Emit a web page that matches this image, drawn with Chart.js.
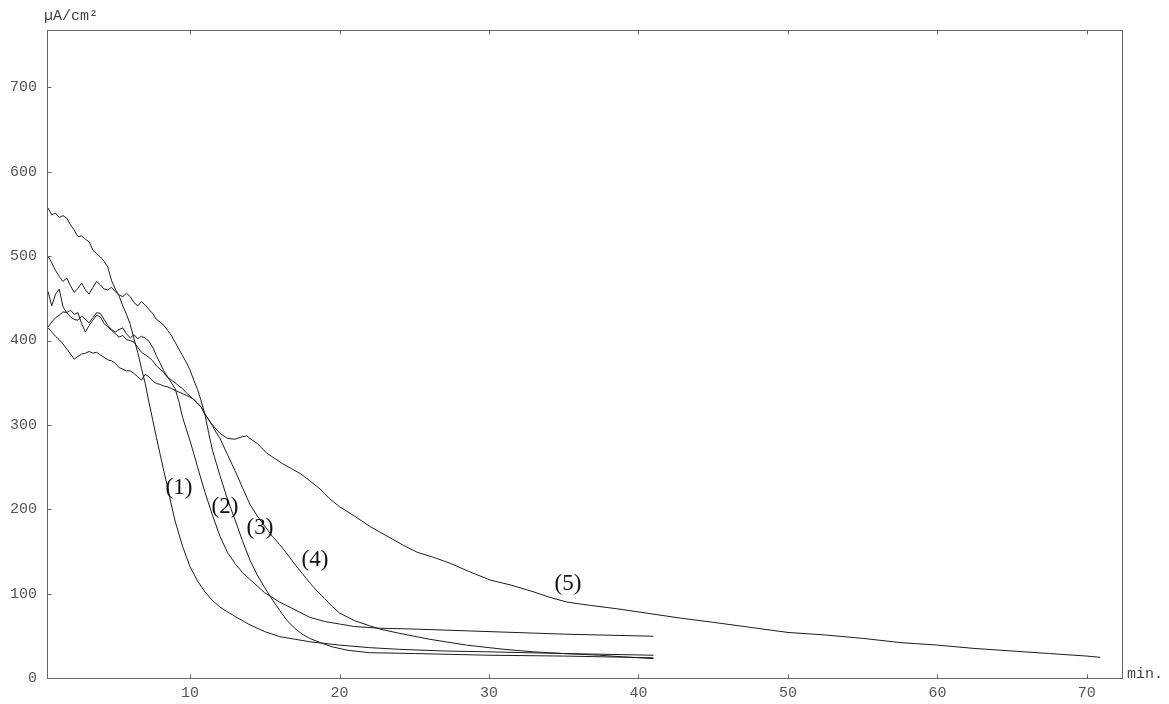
<!DOCTYPE html>
<html>
<head>
<meta charset="utf-8">
<script src="https://cdn.jsdelivr.net/npm/chart.js@4/dist/chart.umd.min.js"></script>
<style>
  html, body { margin: 0; padding: 0; background: #fff; }
</style>
</head>
<body>
<canvas id="myChart" width="1169" height="704"></canvas>
<script>
// axis ticks and names
var xTicks = [10, 20, 30, 40, 50, 60, 70]
var yTicks = [0, 100, 200, 300, 400, 500, 600, 700]
var xName = "min."
var yName = "µA/cm²"

// curve labels and where they sit (data units)
var curveNames = ["(1)", "(2)", "(3)", "(4)", "(5)"]
var labelX = [9.26, 12.34, 14.68, 18.36, 35.28]
var labelY = [225, 202.5, 177.6, 139.7, 112]

// curve (1)
var t1 = [0.5,0.75,1,1.25,1.5,1.75,2,2.25,2.5,2.75,3,3.25,3.5,3.75,4,4.25,4.5,4.75,5,5.25,5.5,5.75,6,6.25,6.5,6.75,7,7.25,7.5,7.75,8,8.25,8.5,8.75,9,
          9.5,10,10.5,11,11.5,12,13,14,15,16,17,18,19,20,22,24,27,30,35,41]
var i1 = [557,549,551,546,548,545,537,531,523,524,520,517,507,503,499,494,487,471,461,453,441,431,419,402,386,367,349,327,306,285,265,245,226,205,186,
          156,132,115,102,92,84,73,63,55,49,46,43,41,39,36,34,32,31,29,27]

// curve (2)
var t2 = [0.5,0.75,1,1.25,1.5,1.75,2,2.25,2.5,2.75,3,3.25,3.5,3.75,4,4.25,4.5,4.75,5,5.25,5.5,5.75,6,6.25,6.5,6.75,7,7.25,7.5,7.75,
          8,8.25,8.5,8.75,9,9.25,9.5,9.75,10,10.25,10.5,10.75,11,
          11.5,12,12.5,13,13.5,14,14.5,15,16,17,18,19,20,21,22.7,25,30,35,41]
var i2 = [458,441,455,461,440,433,428,425,424,429,425,421,427,433,432,425,418,413,410,413,415,408,403,407,402,405,403,399,392,382,
          373,364,357,350,343,328,309,295,281,266,250,235,220,
          193,168,149,136,125,117,109,101,90,81,72,67,64,61,59,58,55,52,49.5]

// curve (3)
var t3 = [0.5,0.75,1,1.25,1.5,1.75,2,2.25,2.5,2.75,3,3.25,3.5,3.75,4,4.25,4.5,4.75,5,5.25,5.5,5.75,6,6.25,6.5,6.75,7,7.25,7.5,7.75,
          8,8.25,8.5,8.75,9,9.25,9.5,9.75,10,10.25,10.5,10.75,11,11.25,11.5,11.75,
          12,12.5,13,13.5,14,14.5,15,15.5,16,16.5,17,17.5,18,18.7,19.5,20.5,22,25,30,35,41]
var i3 = [500,492,483,476,470,474,465,457,462,468,460,455,463,470,466,461,460,463,458,454,452,456,452,445,441,446,442,437,432,425,
          422,418,412,406,398,390,382,374,365,353,342,328,312,290,270,255,
          240,212,188,163,140,122,107,93,80,68,59,52,47,42,37,33,30,29,27,26,24]

// curve (4)
var t4 = [0.5,0.75,1,1.25,1.5,1.75,2,2.25,2.5,2.75,3,3.25,3.5,3.75,4,4.25,4.5,4.75,5,5.25,5.5,5.75,6,6.25,6.5,6.75,7,7.25,7.5,7.75,
          8,8.25,8.5,8.75,9,9.25,9.5,9.75,10,10.25,10.5,10.75,11,11.25,11.5,11.75,12,
          12.5,13,13.5,14,14.5,15,15.5,16,16.5,17,17.5,18,18.5,19,19.5,20,21,22,22.7,24,26,28.5,31,33,35,37.4,39,41]
var i4 = [416,422,427,430,434,433,436,431,433,420,410,418,424,430,428,420,416,412,408,404,406,401,400,398,392,386,383,380,376,370,
          366,362,356,353,350,346,343,338,334,330,325,321,313,306,299,291,284,
          265,246,226,206,192,180,168,158,147,135,124,113,103,94,85,77,68,62,58,53,46,39,34,31,29,27,25,23]

// curve (5)
var t5 = [0.5,0.75,1,1.25,1.5,1.75,2,2.25,2.5,2.75,3,3.25,3.5,3.75,4,4.25,4.5,4.75,5,5.25,5.5,5.75,6,6.25,6.5,6.75,7,7.25,7.5,7.75,
          8,8.25,8.5,8.75,9,9.25,9.5,9.75,10,10.25,10.5,10.75,11,
          11.5,12,12.5,13,13.5,13.8,14,14.5,15.1,15.6,16.2,16.8,17.4,18,18.7,19.3,20,21,22,23.4,24.3,25.2,26.3,27.4,28.7,30.1,
          31.5,33,34,35.2,36.8,38.6,40.5,42.8,45,47.5,50,52.5,55,57.5,60,62.5,65,67.5,70,70.9]
var i5 = [415,410,405,401,396,390,384,378,381,384,385,387,385,386,383,380,377,376,373,368,366,364,364,361,357,353,360,357,352,349,
          348,346,345,343,341,339,337,335,333,330,326,321,312,
          300,290,284,283,286,287,284,278,267,261,254,248,242,234,224,213,203,192,180,166,157,149,143,136,126,116,
          110,102,96,90,86,82,77,71,66,60,54,51,47,42,39,35,32,29,26,24.5]

var times = [t1, t2, t3, t4, t5]
var currents = [i1, i2, i3, i4, i5]

var datasets = []
for (var k = 0; k < times.length; k++) {
    var pts = []
    for (var j = 0; j < times[k].length; j++) {
        pts.push({x: times[k][j], y: currents[k][j]})
    }
    datasets.push({
        label: curveNames[k],
        data: pts,
        borderColor: "#1c1c1c",
        borderWidth: 1,
        pointRadius: 0,
        tension: 0,
        fill: false
    })
}

var tickFont = {family: "'Liberation Mono', 'DejaVu Sans Mono', monospace", size: 15}

// frame box, inward tick marks, axis names and curve numbers
var framePlugin = {
    id: "frame",
    afterDraw: function(chart){
        var c = chart.ctx, a = chart.chartArea
        var xs = chart.scales.x, ys = chart.scales.y
        var L = Math.round(a.left) + 0.5, R = Math.round(a.right) + 0.5
        var T = Math.round(a.top) + 0.5, B = Math.round(a.bottom) + 0.5
        c.save()
        c.strokeStyle = "#666"
        c.lineWidth = 1
        c.strokeRect(L, T, R - L, B - T)
        c.beginPath()
        xTicks.forEach(function(v){
            var p = Math.round(xs.getPixelForValue(v)) + 0.5
            c.moveTo(p, B); c.lineTo(p, B - 4)
            c.moveTo(p, T); c.lineTo(p, T + 4)
        })
        yTicks.forEach(function(v){
            var p = Math.round(ys.getPixelForValue(v)) + 0.5
            c.moveTo(L, p); c.lineTo(L + 4, p)
        })
        c.stroke()

        c.font = "15px 'Liberation Mono', monospace"
        c.fillStyle = "#444"
        c.textAlign = "left"
        c.textBaseline = "alphabetic"
        c.fillText(xName, a.right + 5, a.bottom)
        c.fillText(yName, a.left - 3, a.top - 10)

        c.font = "23px 'Liberation Serif', serif"
        c.fillStyle = "#111"
        c.textAlign = "center"
        c.textBaseline = "middle"
        for (var k = 0; k < curveNames.length; k++) {
            c.fillText(curveNames[k], xs.getPixelForValue(labelX[k]), ys.getPixelForValue(labelY[k]))
        }
        c.restore()
    }
}

var myChart = document.getElementById("myChart").getContext("2d")

var chart = new Chart(myChart, {
    type: "line",
    data: {datasets: datasets},
    options: {
        responsive: false,
        animation: false,
        layout: {padding: {top: 30, right: 47, left: 0, bottom: 0}},
        plugins: {legend: {display: false}, tooltip: {enabled: false}},
        scales: {
            x: {
                type: "linear",
                min: 0.43,
                max: 72.35,
                grid: {display: false, drawTicks: false},
                border: {display: false},
                afterBuildTicks: function(s){ s.ticks = xTicks.map(function(v){ return {value: v} }) },
                afterFit: function(s){ s.height = 26 },
                ticks: {padding: 6, font: tickFont, color: "#555", maxRotation: 0, autoSkip: false}
            },
            y: {
                type: "linear",
                min: 0,
                max: 768,
                grid: {display: false, drawTicks: false},
                border: {display: false},
                afterBuildTicks: function(s){ s.ticks = yTicks.map(function(v){ return {value: v} }) },
                afterFit: function(s){ s.width = 47 },
                ticks: {padding: 10, font: tickFont, color: "#555", autoSkip: false}
            }
        }
    },
    plugins: [framePlugin]
})
</script>
</body>
</html>
